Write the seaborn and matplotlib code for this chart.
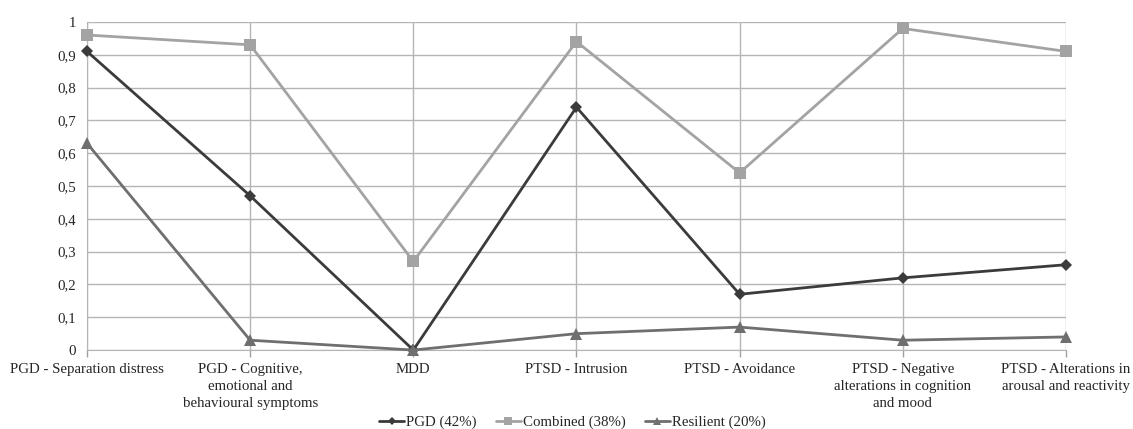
import numpy as np
import pandas as pd
import seaborn as sns
import matplotlib.pyplot as plt
from matplotlib.lines import Line2D
from matplotlib.ticker import FuncFormatter, MultipleLocator

# data
categories = [
    "PGD - Separation distress",
    "PGD - Cognitive,\nemotional and\nbehavioural symptoms",
    "MDD",
    "PTSD - Intrusion",
    "PTSD - Avoidance",
    "PTSD - Negative\nalterations in cognition\nand mood",
    "PTSD - Alterations in\narousal and reactivity",
]
pgd = [0.91, 0.47, 0.0, 0.74, 0.17, 0.22, 0.26]
combined = [0.96, 0.93, 0.27, 0.94, 0.54, 0.98, 0.91]
resilient = [0.63, 0.03, 0.0, 0.05, 0.07, 0.03, 0.04]
series_names = ["PGD (42%)", "Combined (38%)", "Resilient (20%)"]

df = pd.DataFrame({
    "pos": list(range(len(categories))) * 3,
    "value": pgd + combined + resilient,
    "group": np.repeat(series_names, len(categories)),
})

sns.set_style("white")
plt.rcParams['font.family'] = ['Liberation Serif', 'DejaVu Serif']
fs = 10.75

fig = plt.figure(figsize=(11.33, 4.29), dpi=100)
ax = fig.add_axes([0.0768, 0.184, 0.864, 0.765])

colors = {"PGD (42%)": "#3b3b3b", "Combined (38%)": "#a3a3a3", "Resilient (20%)": "#6f6f6f"}
markers = {"PGD (42%)": "D", "Combined (38%)": "s", "Resilient (20%)": "^"}
sizes = {"PGD (42%)": 6, "Combined (38%)": 8, "Resilient (20%)": 8}

for name in series_names:
    sub = df[df["group"] == name]
    sns.lineplot(data=sub, x="pos", y="value", ax=ax, color=colors[name],
                 marker=markers[name], markersize=sizes[name], markeredgewidth=0,
                 linewidth=2, legend=False, clip_on=False, zorder=3)

ax.set_xlim(0, len(categories) - 1)
ax.set_ylim(0, 1)
ax.yaxis.set_major_locator(MultipleLocator(0.1))
ax.yaxis.set_major_formatter(FuncFormatter(lambda v, p: "0" if abs(v) < 1e-9 else ("1" if abs(v - 1) < 1e-9 else f"{v:.1f}".replace(".", ","))))
ax.set_xticks(range(len(categories)))
ax.set_xticklabels(categories, fontsize=fs, linespacing=1.4)
ax.tick_params(axis="y", labelsize=fs, length=0, pad=8)
ax.tick_params(axis="x", length=5, color="#a0a0a0", width=1, pad=4, bottom=True)
ax.set_xlabel("")
ax.set_ylabel("")

ax.grid(True, color="#b5b5b5", linewidth=1)
ax.set_axisbelow(True)
for s in ["top", "right"]:
    ax.spines[s].set_visible(False)
ax.spines["left"].set_color("#b5b5b5")
ax.spines["bottom"].set_color("#b5b5b5")

handles = [Line2D([], [], color=colors[n], marker=markers[n], markersize=sizes[n] - 2,
                  markeredgewidth=0, linewidth=2) for n in series_names]
fig.legend(handles, series_names, loc="center", bbox_to_anchor=(0.505, 0.016), ncol=3,
           frameon=False, fontsize=fs, handlelength=1.7, columnspacing=1.3,
           handletextpad=0.1, borderpad=0)

fig.savefig("out.png", dpi=100)
